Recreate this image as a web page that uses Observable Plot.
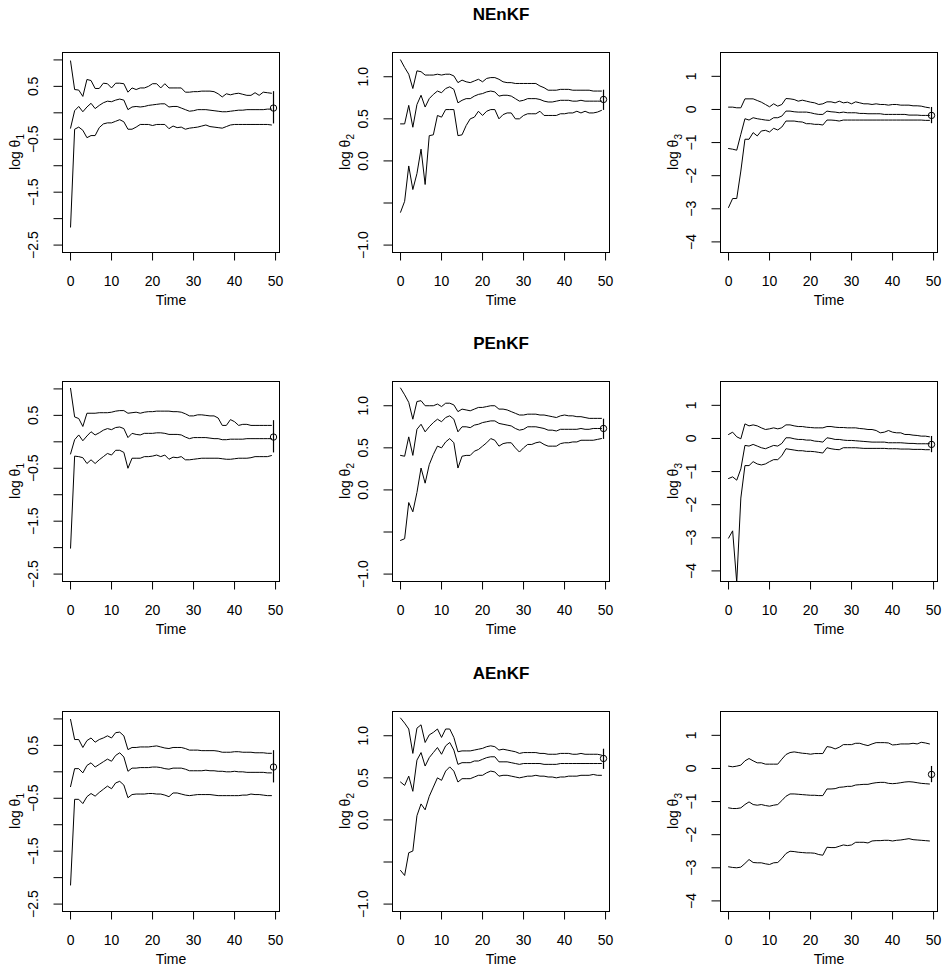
<!DOCTYPE html>
<html><head><meta charset="utf-8">
<script src="https://cdn.jsdelivr.net/npm/d3@7"></script>
<script src="https://cdn.jsdelivr.net/npm/@observablehq/plot@0.6"></script>
<style>
html,body{margin:0;padding:0;background:#fff;overflow:hidden}
#chart{position:relative;width:948px;height:973px;font-family:"Liberation Sans",Arial,Helvetica,sans-serif}
.panel{position:absolute}
</style></head><body><div id="chart"></div>
<script>
// ---------- data ----------
const time = [0,1,2,3,4,5,6,7,8,9,10,11,12,13,14,15,16,17,18,19,20,21,22,23,24,25,26,27,28,29,30,31,32,33,34,35,36,37,38,39,40,41,42,43,44,45,46,47,48,49];
const methods = ["NEnKF", "PEnKF", "AEnKF"];
const paramSub = ["1", "2", "3"];
const xTicks = [0, 10, 20, 30, 40, 50];
const xTickLabels = ["0", "10", "20", "30", "40", "50"];

const yTicksTheta1 = [-2.5, -2, -1.5, -1, -0.5, 0, 0.5, 1];
const yLabelsTheta1 = ["−2.5", "", "−1.5", "", "−0.5", "", "0.5", ""];
const yTicksTheta2 = [-1, -0.5, 0, 0.5, 1];
const yLabelsTheta2 = ["−1.0", "", "0.0", "0.5", "1.0"];
const yTicksTheta3 = [-4, -3, -2, -1, 0, 1];
const yLabelsTheta3 = ["−4", "−3", "−2", "−1", "0", "1"];
const yDomains = [[-2.64, 1.14], [-1.088, 1.288], [-4.32, 1.72]];

// true parameter value and interval, drawn at the right end
const truthTime = 49.5;
const truthValue = [0.09, 0.73, -0.18];
const truthLow = [-0.21, 0.60, -0.43];
const truthHigh = [0.40, 0.84, 0.06];

// NEnKF
const nenkfT1High = [0.98,0.44,0.43,0.31,0.63,0.61,0.46,0.46,0.56,0.55, 0.47,0.56,0.56,0.55,0.39,0.47,0.44,0.47,0.47,0.50, 0.55,0.55,0.47,0.55,0.47,0.47,0.47,0.47,0.39,0.39, 0.40,0.40,0.41,0.41,0.41,0.40,0.36,0.30,0.36,0.34, 0.36,0.37,0.35,0.33,0.33,0.38,0.33,0.39,0.38,0.37];
const nenkfT1Mid = [-0.29,0.04,0.12,0.02,0.11,0.18,0.08,0.14,0.19,0.22, 0.21,0.24,0.26,0.24,0.06,0.11,0.12,0.11,0.12,0.14, 0.15,0.16,0.17,0.17,0.11,0.12,0.12,0.09,0.06,0.03, 0.04,0.06,0.06,0.06,0.05,0.04,0.03,0.02,0.02,0.03, 0.04,0.05,0.05,0.06,0.06,0.06,0.06,0.06,0.07,0.07];
const nenkfT1Low = [-2.16,-0.31,-0.27,-0.33,-0.47,-0.43,-0.43,-0.28,-0.21,-0.19, -0.19,-0.16,-0.13,-0.17,-0.31,-0.31,-0.27,-0.22,-0.22,-0.22, -0.24,-0.22,-0.22,-0.22,-0.30,-0.25,-0.28,-0.27,-0.31,-0.29, -0.28,-0.27,-0.25,-0.23,-0.26,-0.27,-0.28,-0.29,-0.26,-0.23, -0.22,-0.22,-0.22,-0.22,-0.22,-0.22,-0.22,-0.22,-0.22,-0.23];
const nenkfT2High = [1.20,1.11,1.03,0.86,1.07,1.06,1.02,1.02,1.02,1.03, 1.02,1.03,1.03,1.01,0.93,0.96,0.94,0.93,0.95,0.97, 0.94,0.98,0.99,0.99,0.97,0.94,0.93,0.93,0.92,0.92, 0.92,0.92,0.92,0.92,0.89,0.87,0.84,0.84,0.84,0.85, 0.85,0.85,0.84,0.84,0.84,0.84,0.84,0.83,0.83,0.83];
const nenkfT2Mid = [0.44,0.44,0.66,0.40,0.67,0.78,0.64,0.74,0.79,0.83, 0.81,0.86,0.88,0.85,0.69,0.72,0.74,0.74,0.77,0.79, 0.80,0.82,0.83,0.82,0.77,0.78,0.78,0.77,0.74,0.71, 0.72,0.74,0.74,0.74,0.73,0.71,0.70,0.70,0.71,0.72, 0.72,0.72,0.71,0.71,0.72,0.71,0.71,0.71,0.71,0.71];
const nenkfT2Low = [-0.61,-0.48,-0.06,-0.34,-0.15,0.14,-0.28,0.30,0.31,0.54, 0.52,0.61,0.61,0.61,0.30,0.31,0.42,0.50,0.52,0.59, 0.54,0.59,0.61,0.61,0.50,0.55,0.57,0.57,0.50,0.50, 0.54,0.56,0.56,0.56,0.59,0.54,0.54,0.54,0.54,0.56, 0.56,0.57,0.57,0.59,0.57,0.59,0.57,0.57,0.58,0.60];
const nenkfT3High = [0.07,0.07,0.05,0.05,0.32,0.32,0.32,0.27,0.22,0.15, 0.08,0.17,0.10,0.15,0.33,0.32,0.30,0.25,0.28,0.25, 0.22,0.20,0.15,0.17,0.23,0.23,0.20,0.25,0.20,0.22, 0.17,0.23,0.20,0.17,0.17,0.15,0.17,0.15,0.15,0.13, 0.15,0.15,0.13,0.13,0.13,0.11,0.11,0.10,0.07,0.05];
const nenkfT3Mid = [-1.18,-1.20,-1.23,-0.75,-0.28,-0.32,-0.25,-0.28,-0.30,-0.32, -0.33,-0.25,-0.25,-0.20,-0.05,-0.05,-0.07,-0.08,-0.08,-0.08, -0.10,-0.13,-0.15,-0.15,-0.05,-0.07,-0.08,-0.10,-0.08,-0.10, -0.10,-0.10,-0.12,-0.12,-0.13,-0.13,-0.13,-0.13,-0.15,-0.15, -0.15,-0.15,-0.15,-0.15,-0.17,-0.17,-0.17,-0.18,-0.18,-0.18];
const nenkfT3Low = [-2.96,-2.69,-2.69,-1.86,-0.90,-0.90,-0.70,-0.80,-0.65,-0.63, -0.68,-0.57,-0.62,-0.53,-0.35,-0.35,-0.35,-0.37,-0.38,-0.43, -0.43,-0.45,-0.45,-0.47,-0.32,-0.32,-0.33,-0.35,-0.32,-0.32, -0.32,-0.32,-0.32,-0.32,-0.32,-0.32,-0.32,-0.32,-0.32,-0.32, -0.32,-0.32,-0.32,-0.32,-0.32,-0.32,-0.32,-0.32,-0.33,-0.33];

// PEnKF
const penkfT1High = [1.01,0.47,0.44,0.29,0.54,0.54,0.54,0.55,0.55,0.55, 0.56,0.58,0.59,0.59,0.54,0.55,0.56,0.54,0.56,0.57, 0.57,0.58,0.58,0.58,0.58,0.57,0.57,0.56,0.53,0.49, 0.49,0.51,0.51,0.50,0.49,0.49,0.45,0.31,0.31,0.42, 0.38,0.31,0.33,0.33,0.31,0.31,0.31,0.31,0.31,0.31];
const penkfT1Mid = [-0.23,0.04,0.13,0.02,0.11,0.19,0.13,0.17,0.22,0.25, 0.23,0.27,0.28,0.25,0.08,0.16,0.14,0.13,0.16,0.16, 0.16,0.17,0.17,0.16,0.14,0.14,0.14,0.13,0.09,0.06, 0.08,0.08,0.08,0.08,0.07,0.06,0.06,0.04,0.04,0.05, 0.05,0.05,0.05,0.06,0.06,0.06,0.06,0.06,0.06,0.06];
const penkfT1Low = [-2.01,-0.27,-0.28,-0.30,-0.41,-0.34,-0.41,-0.34,-0.28,-0.22, -0.25,-0.16,-0.16,-0.20,-0.50,-0.31,-0.31,-0.31,-0.28,-0.28, -0.27,-0.25,-0.28,-0.25,-0.33,-0.29,-0.30,-0.28,-0.34,-0.34, -0.33,-0.32,-0.31,-0.31,-0.31,-0.31,-0.31,-0.32,-0.33,-0.33, -0.32,-0.31,-0.31,-0.31,-0.30,-0.28,-0.28,-0.28,-0.28,-0.26];
const penkfT2High = [1.21,1.13,1.04,0.84,1.05,1.06,1.00,1.00,1.00,1.02, 0.99,1.03,1.03,1.01,0.93,0.96,0.95,0.94,0.96,0.98, 0.98,0.99,1.00,1.00,0.96,0.96,0.95,0.93,0.91,0.89, 0.89,0.90,0.90,0.90,0.89,0.89,0.88,0.87,0.86,0.88, 0.89,0.88,0.88,0.87,0.87,0.86,0.85,0.85,0.85,0.85];
const penkfT2Mid = [0.41,0.40,0.63,0.41,0.72,0.78,0.69,0.75,0.80,0.84, 0.81,0.86,0.88,0.84,0.69,0.75,0.75,0.74,0.77,0.78, 0.80,0.81,0.82,0.82,0.79,0.78,0.77,0.76,0.73,0.71, 0.72,0.75,0.75,0.75,0.74,0.73,0.71,0.71,0.70,0.72, 0.72,0.72,0.72,0.72,0.73,0.72,0.72,0.73,0.73,0.73];
const penkfT2Low = [-0.60,-0.58,-0.15,-0.26,-0.03,0.26,0.08,0.30,0.42,0.52, 0.50,0.57,0.61,0.56,0.26,0.40,0.41,0.41,0.46,0.48, 0.52,0.56,0.61,0.59,0.52,0.55,0.56,0.56,0.50,0.45, 0.50,0.54,0.54,0.56,0.57,0.54,0.52,0.52,0.52,0.55, 0.56,0.56,0.57,0.57,0.59,0.59,0.59,0.59,0.60,0.61];
const penkfT3High = [0.12,0.19,0.05,-0.01,0.44,0.38,0.41,0.38,0.32,0.27, 0.29,0.32,0.29,0.32,0.41,0.41,0.38,0.36,0.36,0.34, 0.33,0.32,0.32,0.32,0.36,0.36,0.34,0.33,0.33,0.32, 0.32,0.32,0.30,0.29,0.27,0.27,0.24,0.17,0.19,0.24, 0.19,0.17,0.17,0.12,0.12,0.10,0.09,0.07,0.07,0.05];
const penkfT3Mid = [-1.21,-1.16,-1.26,-0.92,-0.21,-0.23,-0.18,-0.23,-0.28,-0.31, -0.26,-0.21,-0.23,-0.15,0.02,0.02,-0.01,-0.03,-0.03,-0.05, -0.05,-0.08,-0.09,-0.11,0.02,0.00,-0.03,-0.03,-0.05,-0.06, -0.06,-0.07,-0.08,-0.09,-0.10,-0.11,-0.11,-0.11,-0.11,-0.13, -0.13,-0.13,-0.13,-0.14,-0.15,-0.15,-0.16,-0.16,-0.16,-0.16];
const penkfT3Low = [-3.01,-2.79,-4.35,-1.80,-0.82,-0.82,-0.70,-0.77,-0.80,-0.77, -0.70,-0.64,-0.64,-0.52,-0.31,-0.33,-0.35,-0.37,-0.37,-0.39, -0.39,-0.40,-0.42,-0.44,-0.28,-0.31,-0.33,-0.34,-0.28,-0.28, -0.28,-0.28,-0.29,-0.30,-0.30,-0.30,-0.30,-0.30,-0.30,-0.31, -0.31,-0.31,-0.32,-0.32,-0.32,-0.33,-0.33,-0.33,-0.34,-0.34];

// AEnKF
const aenkfT1High = [0.99,0.61,0.61,0.46,0.59,0.64,0.56,0.61,0.64,0.68, 0.64,0.74,0.75,0.68,0.42,0.46,0.46,0.47,0.47,0.47, 0.48,0.49,0.47,0.45,0.44,0.46,0.46,0.46,0.44,0.41, 0.41,0.41,0.40,0.40,0.40,0.40,0.39,0.37,0.37,0.37, 0.38,0.38,0.37,0.37,0.37,0.36,0.36,0.36,0.35,0.35];
const aenkfT1Mid = [-0.28,0.06,0.06,-0.02,0.12,0.17,0.09,0.14,0.19,0.24, 0.20,0.31,0.36,0.28,0.01,0.07,0.07,0.08,0.08,0.08, 0.09,0.09,0.08,0.06,0.05,0.07,0.07,0.07,0.05,0.02, 0.02,0.02,0.02,0.03,0.02,0.02,0.01,0.01,0.00,0.00, 0.01,0.00,0.00,-0.01,-0.01,-0.01,-0.01,-0.01,-0.02,-0.02];
const aenkfT1Low = [-2.14,-0.52,-0.52,-0.60,-0.47,-0.41,-0.46,-0.39,-0.33,-0.27, -0.32,-0.21,-0.18,-0.25,-0.49,-0.43,-0.42,-0.42,-0.42,-0.41, -0.41,-0.42,-0.42,-0.44,-0.47,-0.40,-0.40,-0.42,-0.44,-0.45, -0.44,-0.43,-0.43,-0.43,-0.43,-0.44,-0.45,-0.45,-0.45,-0.45, -0.45,-0.45,-0.44,-0.44,-0.42,-0.43,-0.43,-0.44,-0.45,-0.45];
const aenkfT2High = [1.21,1.15,1.08,0.79,1.09,1.13,0.92,1.01,1.04,1.08, 0.98,1.08,1.08,0.98,0.81,0.82,0.82,0.82,0.83,0.84, 0.85,0.87,0.88,0.87,0.83,0.84,0.83,0.82,0.81,0.79, 0.80,0.80,0.80,0.80,0.79,0.79,0.78,0.78,0.78,0.79, 0.79,0.79,0.78,0.78,0.79,0.78,0.78,0.78,0.78,0.77];
const aenkfT2Mid = [0.45,0.41,0.52,0.34,0.71,0.80,0.64,0.74,0.80,0.86, 0.78,0.88,0.92,0.83,0.66,0.68,0.68,0.68,0.70,0.70, 0.72,0.74,0.75,0.75,0.69,0.69,0.69,0.68,0.67,0.66, 0.67,0.67,0.67,0.67,0.67,0.66,0.66,0.66,0.66,0.67, 0.67,0.67,0.67,0.67,0.67,0.67,0.67,0.67,0.67,0.67];
const aenkfT2Low = [-0.60,-0.66,-0.39,-0.37,0.05,0.19,0.12,0.28,0.39,0.50, 0.47,0.58,0.63,0.58,0.45,0.49,0.49,0.49,0.51,0.53, 0.53,0.56,0.58,0.57,0.52,0.53,0.53,0.52,0.51,0.50, 0.51,0.52,0.52,0.53,0.52,0.52,0.51,0.51,0.50,0.51, 0.51,0.52,0.52,0.52,0.53,0.53,0.53,0.54,0.53,0.53];
const aenkfT3High = [0.07,0.05,0.07,0.10,0.23,0.30,0.23,0.17,0.17,0.13, 0.13,0.13,0.13,0.28,0.42,0.48,0.50,0.48,0.46,0.45, 0.43,0.45,0.45,0.45,0.66,0.64,0.59,0.64,0.72,0.72, 0.72,0.76,0.76,0.72,0.69,0.74,0.78,0.78,0.78,0.77, 0.71,0.72,0.74,0.74,0.74,0.76,0.74,0.79,0.77,0.74];
const aenkfT3Mid = [-1.19,-1.21,-1.21,-1.19,-1.09,-1.01,-1.09,-1.11,-1.09,-1.12, -1.14,-1.11,-1.09,-0.97,-0.84,-0.77,-0.77,-0.78,-0.79,-0.80, -0.81,-0.81,-0.82,-0.82,-0.62,-0.62,-0.61,-0.57,-0.56,-0.54, -0.54,-0.50,-0.49,-0.48,-0.48,-0.45,-0.43,-0.42,-0.42,-0.45, -0.46,-0.45,-0.43,-0.41,-0.40,-0.41,-0.43,-0.45,-0.46,-0.47];
const aenkfT3Low = [-2.97,-2.99,-3.00,-2.98,-2.87,-2.75,-2.84,-2.85,-2.85,-2.88, -2.90,-2.85,-2.84,-2.72,-2.57,-2.50,-2.51,-2.53,-2.54,-2.55, -2.55,-2.56,-2.60,-2.62,-2.38,-2.39,-2.39,-2.35,-2.31,-2.33, -2.31,-2.23,-2.23,-2.23,-2.25,-2.19,-2.18,-2.18,-2.17,-2.17, -2.19,-2.17,-2.16,-2.14,-2.12,-2.15,-2.16,-2.17,-2.18,-2.19];

// ---------- assembly ----------
const series = [
  [[nenkfT1Low, nenkfT1Mid, nenkfT1High], [nenkfT2Low, nenkfT2Mid, nenkfT2High], [nenkfT3Low, nenkfT3Mid, nenkfT3High]],
  [[penkfT1Low, penkfT1Mid, penkfT1High], [penkfT2Low, penkfT2Mid, penkfT2High], [penkfT3Low, penkfT3Mid, penkfT3High]],
  [[aenkfT1Low, aenkfT1Mid, aenkfT1High], [aenkfT2Low, aenkfT2Mid, aenkfT2High], [aenkfT3Low, aenkfT3Mid, aenkfT3High]]
];
const yTicksAll = [yTicksTheta1, yTicksTheta2, yTicksTheta3];
const yLabelsAll = [yLabelsTheta1, yLabelsTheta2, yLabelsTheta3];

const FONT = '"Liberation Sans", Arial, Helvetica, sans-serif';
const ML = 62, MT = 50, MB = 60, BOXW = 217, BOXH = 200, MR = 10;
const boxLeft = [62, 392, 720];
const boxTop = [52, 381, 711];
const chart = document.getElementById("chart");

for (let r = 0; r < 3; r++) {
  for (let c = 0; c < 3; c++) {
    const [lo, mid, hi] = series[r][c];
    const rows = time.map((t, i) => ({t, lo: lo[i], mid: mid[i], hi: hi[i]}));
    const truth = [{t: truthTime, v: truthValue[c], lo: truthLow[c], hi: truthHigh[c]}];
    const yTickRows = yTicksAll[c].map((v, i) => ({v, s: yLabelsAll[c][i]})).filter(d => d.s !== "");
    const xTickRows = xTicks.map((v, i) => ({v, s: xTickLabels[i]}));
    const marks = [
      Plot.axisX({ticks: xTicks, tickSize: 8.5, tickFormat: () => "", label: null, stroke: "black"}),
      Plot.axisY({ticks: yTicksAll[c], tickSize: 8.5, tickFormat: () => "", label: null, stroke: "black"}),
      Plot.text(xTickRows, {x: "v", text: "s", frameAnchor: "bottom", dy: 23.5, lineAnchor: "top", fontSize: 14, fill: "black"}),
      Plot.text(yTickRows, {y: "v", text: "s", frameAnchor: "left", dx: -29, rotate: -90, textAnchor: "middle", lineAnchor: "middle", fontSize: 14, fill: "black"}),
      Plot.text(["Time"], {frameAnchor: "bottom", dy: 43, lineAnchor: "top", fontSize: 14, fill: "black"}),
      Plot.line(rows, {x: "t", y: "hi", stroke: "black", strokeWidth: 1, clip: true}),
      Plot.line(rows, {x: "t", y: "mid", stroke: "black", strokeWidth: 1, clip: true}),
      Plot.line(rows, {x: "t", y: "lo", stroke: "black", strokeWidth: 1, clip: true}),
      Plot.ruleX(truth, {x: "t", y1: "lo", y2: "hi", stroke: "black", strokeWidth: 1.2}),
      Plot.dot(truth, {x: "t", y: "v", r: 3.2, stroke: "black", fill: "none", strokeWidth: 1}),
      Plot.frame({stroke: "black", strokeWidth: 1})
    ];
    if (c === 1) {
      marks.push(Plot.text([methods[r]], {frameAnchor: "top", dy: -37.5, lineAnchor: "middle", fontSize: 17, fontWeight: "bold", fill: "black"}));
    }
    const svg = Plot.plot({
      width: ML + BOXW + MR,
      height: MT + BOXH + MB,
      marginLeft: ML, marginRight: MR, marginTop: MT, marginBottom: MB,
      x: {domain: [-1.96, 50.96]},
      y: {domain: yDomains[c]},
      style: {fontFamily: FONT, fontSize: "14px", color: "black", background: "white", overflow: "visible"},
      marks
    });
    // y axis title with subscript (log θ_k)
    const t = d3.select(svg).append("text")
      .attr("transform", `translate(${ML - 47},${MT + BOXH / 2}) rotate(-90)`)
      .attr("text-anchor", "middle")
      .attr("dy", "0.35em")
      .attr("fill", "black")
      .style("font-family", FONT)
      .style("font-size", "14px");
    t.append("tspan").text("log θ");
    t.append("tspan").attr("dy", "4").style("font-size", "10px").text(paramSub[c]);

    const div = document.createElement("div");
    div.className = "panel";
    div.style.left = (boxLeft[c] - ML) + "px";
    div.style.top = (boxTop[r] - MT) + "px";
    div.appendChild(svg);
    chart.appendChild(div);
  }
}
</script></body></html>
